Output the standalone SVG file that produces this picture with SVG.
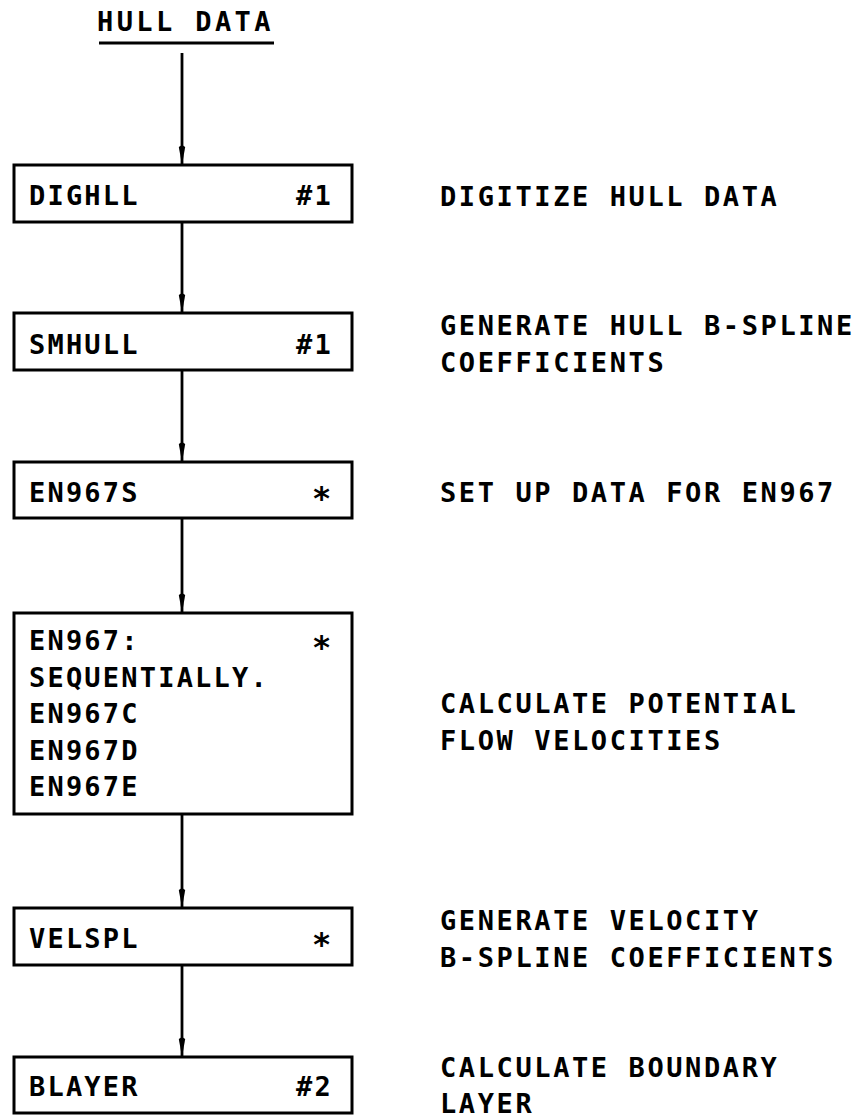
<svg xmlns="http://www.w3.org/2000/svg" width="859" height="1117" viewBox="0 0 859 1117">
<style>
  text { font-family: "DejaVu Sans Mono", "Liberation Mono", monospace; font-size: 27px; font-weight: bold; fill: #000; }
  .bt { letter-spacing: 2.2px; }
  .rt { letter-spacing: 2.6px; }
  .ast { font-size: 32px; }
  .box { fill: #fff; stroke: #000; stroke-width: 3; }
  .conn { stroke: #000; stroke-width: 2.8; fill: none; marker-end: url(#arr); }
</style>
<defs>
  <marker id="arr" markerUnits="userSpaceOnUse" markerWidth="22" markerHeight="10" refX="20" refY="4" orient="auto">
    <path d="M0,4 L2,0.8 L20,4 L2,7.2 z" fill="#000"/>
  </marker>
</defs>
<rect width="859" height="1117" fill="#fff"/>

<g id="title">
  <text x="97" y="31" letter-spacing="3.4">HULL DATA</text>
  <line x1="99" y1="43" x2="274" y2="43" stroke="#000" stroke-width="3"/>
</g>

<g id="connectors">
  <line class="conn" x1="182" y1="53" x2="182" y2="165"/>
  <line class="conn" x1="182" y1="222" x2="182" y2="313"/>
  <line class="conn" x1="182" y1="370" x2="182" y2="462"/>
  <line class="conn" x1="182" y1="518" x2="182" y2="613"/>
  <line class="conn" x1="182" y1="814" x2="182" y2="908"/>
  <line class="conn" x1="182" y1="965" x2="182" y2="1057"/>
</g>

<g id="dighll">
  <rect class="box" x="14" y="165" width="338" height="57"/>
  <text class="bt" x="29" y="205">DIGHLL</text>
  <text class="bt" x="296" y="205">#1</text>
</g>
<g id="smhull">
  <rect class="box" x="14" y="313" width="338" height="57"/>
  <text class="bt" x="29" y="354">SMHULL</text>
  <text class="bt" x="296" y="354">#1</text>
</g>
<g id="en967s">
  <rect class="box" x="14" y="462" width="338" height="56"/>
  <text class="bt" x="29" y="502">EN967S</text>
  <text class="ast" x="312" y="509">*</text>
</g>
<g id="en967">
  <rect class="box" x="14" y="613" width="338" height="201"/>
  <text class="bt" x="29" y="650">EN967:</text>
  <text class="ast" x="312" y="658">*</text>
  <text class="bt" x="29" y="687">SEQUENTIALLY.</text>
  <text class="bt" x="29" y="723">EN967C</text>
  <text class="bt" x="29" y="760">EN967D</text>
  <text class="bt" x="29" y="796">EN967E</text>
</g>
<g id="velspl">
  <rect class="box" x="14" y="908" width="338" height="57"/>
  <text class="bt" x="29" y="948">VELSPL</text>
  <text class="ast" x="312" y="955">*</text>
</g>
<g id="blayer">
  <rect class="box" x="14" y="1057" width="338" height="56"/>
  <text class="bt" x="29" y="1096">BLAYER</text>
  <text class="bt" x="296" y="1096">#2</text>
</g>

<g id="descriptions">
  <text class="rt" x="440" y="206">DIGITIZE HULL DATA</text>
  <text class="rt" x="440" y="335">GENERATE HULL B-SPLINE</text>
  <text class="rt" x="440" y="372">COEFFICIENTS</text>
  <text class="rt" x="440" y="502">SET UP DATA FOR EN967</text>
  <text class="rt" x="440" y="713">CALCULATE POTENTIAL</text>
  <text class="rt" x="440" y="750">FLOW VELOCITIES</text>
  <text class="rt" x="440" y="930">GENERATE VELOCITY</text>
  <text class="rt" x="440" y="967">B-SPLINE COEFFICIENTS</text>
  <text class="rt" x="440" y="1077">CALCULATE BOUNDARY</text>
  <text class="rt" x="440" y="1113">LAYER</text>
</g>
</svg>
